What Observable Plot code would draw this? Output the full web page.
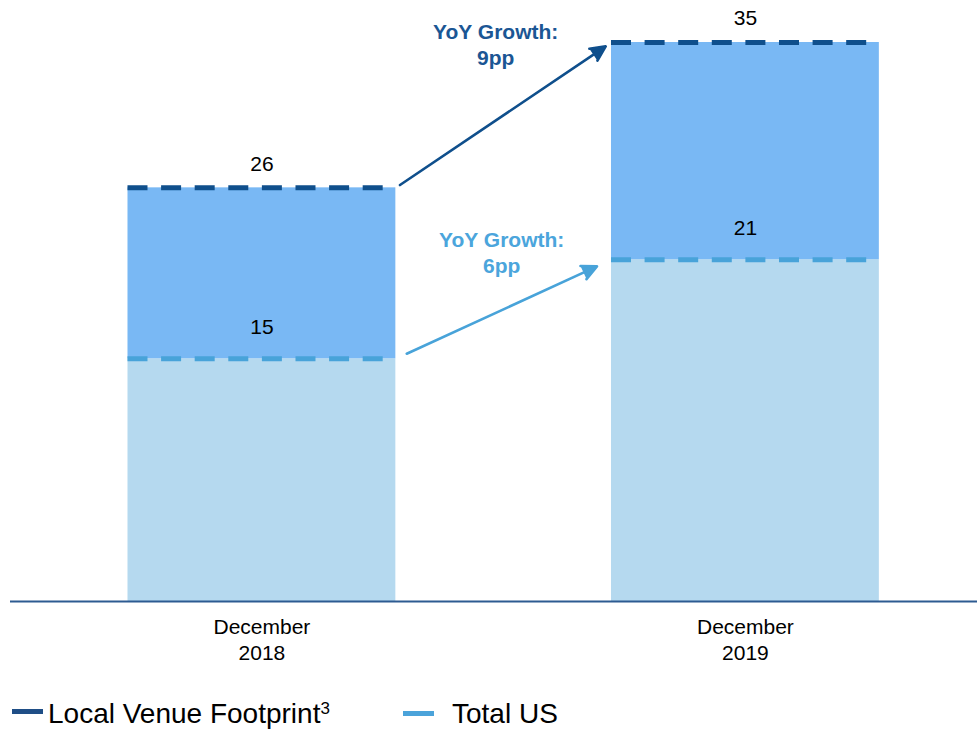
<!DOCTYPE html>
<html><head><meta charset="utf-8">
<script src="https://cdn.jsdelivr.net/npm/d3@7"></script>
<script src="https://cdn.jsdelivr.net/npm/@observablehq/plot@0.6"></script>
<style>
html,body{margin:0;padding:0;background:#fff;}
#wrap{position:relative;width:977px;height:731px;overflow:hidden;font-family:"Liberation Sans",Arial,sans-serif;}
.lg-sw{position:absolute;height:5px;width:31px;}
.lg-tx{position:absolute;font-size:28px;line-height:28px;color:#000;white-space:nowrap;}
.lg-tx sup{font-size:17px;line-height:0;vertical-align:9px;}
</style></head><body><div id="wrap"></div>
<script>
// ---- data ----
const categories = ["December 2018", "December 2019"];
const localVenue = [25.9, 35.0];
const totalUS = [15.2, 21.4];
const localLabels = ["26", "35"];
const totalLabels = ["15", "21"];
const growthLabels = ["YoY Growth:\n9pp", "YoY Growth:\n6pp"];
const seriesNames = ["Local Venue Footprint", "Total US"];
const seriesSup = ["3", ""];

// ---- styling ----
const darkBlue = "#0F4F8C";
const lightBlue = "#48A3D9";
const topFill = "#79B8F4";
const bottomFill = "#B5D9EF";
const legendColors = ["#1F4E86", "#4BA3DA"];
const hw = 0.277; // half bar width in x units

const rows = categories.map((c, i) => ({
  i, cat: c, local: localVenue[i], total: totalUS[i],
  localLabel: localLabels[i], totalLabel: totalLabels[i]
}));
const arrowLocal = [{x1: 0 + hw, y1: localVenue[0], x2: 1 - hw, y2: localVenue[1]}];
const arrowTotal = [{x1: 0 + hw, y1: totalUS[0], x2: 1 - hw, y2: totalUS[1]}];
const growthLocal = [{x: 0.5, y: localVenue[1], t: growthLabels[0]}];
const growthTotal = [{x: 0.5, y: totalUS[1], t: growthLabels[1]}];

const chart = Plot.plot({
  width: 977,
  height: 680,
  marginLeft: 10,
  marginRight: 0,
  marginTop: 42,
  marginBottom: 79,
  x: {type: "linear", domain: [-0.52, 1.48], axis: null},
  y: {domain: [0, 35], axis: null},
  style: {fontFamily: "'Liberation Sans', Arial, sans-serif", background: "white", overflow: "visible"},
  marks: [
    Plot.rectY(rows, {x1: d => d.i - hw, x2: d => d.i + hw, y1: 0, y2: "total", fill: bottomFill}),
    Plot.rectY(rows, {x1: d => d.i - hw, x2: d => d.i + hw, y1: "total", y2: "local", fill: topFill}),
    Plot.ruleY(rows, {y: "total", x1: d => d.i - hw, x2: d => d.i + hw, stroke: lightBlue, strokeWidth: 5, strokeDasharray: "20,13.6"}),
    Plot.ruleY(rows, {y: "local", x1: d => d.i - hw, x2: d => d.i + hw, stroke: darkBlue, strokeWidth: 5, strokeDasharray: "20,13.6"}),
    Plot.ruleY([0], {stroke: "#2D5B91", strokeWidth: 2}),
    Plot.text(rows, {x: "i", y: "local", text: "localLabel", dy: -24, fontSize: 21, fill: "#000"}),
    Plot.text(rows, {x: "i", y: "total", text: "totalLabel", dy: -31, fontSize: 21, fill: "#000"}),
    Plot.text(rows, {x: "i", y: 0, text: d => d.cat.replace(" ", "\n"), lineAnchor: "top", dy: 15, fontSize: 21, lineHeight: 1.2, fill: "#000"}),
    Plot.text(growthLocal, {x: "x", y: "y", text: "t", dx: -8, dy: 1, fontSize: 21, fontWeight: "bold", lineHeight: 1.22, fill: "#1B5694"}),
    Plot.text(growthTotal, {x: "x", y: "y", text: "t", dx: -2, dy: -8, fontSize: 21, fontWeight: "bold", lineHeight: 1.25, fill: "#4BA5DC"}),
    Plot.arrow(arrowLocal, {x1: "x1", y1: "y1", x2: "x2", y2: "y2", stroke: darkBlue, fill: darkBlue, strokeWidth: 2.6, headLength: 9.5, headAngle: 52, insetStart: 5, insetEnd: 7}),
    Plot.arrow(arrowTotal, {x1: "x1", y1: "y1", x2: "x2", y2: "y2", stroke: lightBlue, fill: lightBlue, strokeWidth: 2.6, headLength: 9.5, headAngle: 52, insetStart: 12, insetEnd: 16})
  ]
});
const wrap = document.getElementById("wrap");
chart.style.position = "absolute";
chart.style.left = "0px";
chart.style.top = "0px";
wrap.appendChild(chart);

// legend
const legendPos = [{sw: 12, tx: 48, swTop: 709}, {sw: 403, tx: 452, swTop: 711}];
seriesNames.forEach((name, k) => {
  const sw = document.createElement("div");
  sw.className = "lg-sw";
  sw.style.left = legendPos[k].sw + "px";
  sw.style.top = legendPos[k].swTop + "px";
  sw.style.background = legendColors[k];
  wrap.appendChild(sw);
  const tx = document.createElement("div");
  tx.className = "lg-tx";
  tx.style.left = legendPos[k].tx + "px";
  tx.style.top = "700px";
  tx.textContent = name;
  if (seriesSup[k]) {
    const s = document.createElement("sup");
    s.textContent = seriesSup[k];
    tx.appendChild(s);
  }
  wrap.appendChild(tx);
});
</script></body></html>
